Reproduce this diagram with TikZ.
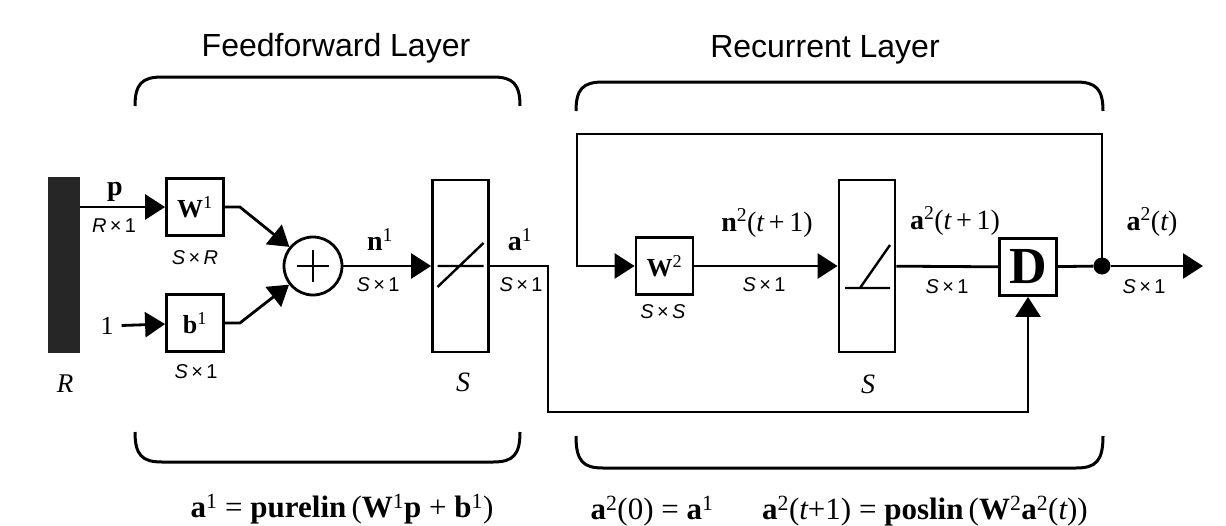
\documentclass[tikz,border=0pt]{standalone}
\usepackage{fontspec}
\setmainfont{Liberation Serif}
\setsansfont{Liberation Sans}
\usetikzlibrary{arrows.meta, positioning, calc}
\newcommand{\up}[1]{\textsuperscript{\normalfont#1}}
\newcommand{\tvar}{{\normalfont\itshape t}}
\newcommand{\dimS}[1]{{\itshape S}\,×\,#1}

\begin{document}
\begin{tikzpicture}[x=1pt, y=-1pt,
        box/.style={rectangle, draw, line width=2.8pt, minimum width=57pt,
                    minimum height=57pt, inner sep=0pt,
                    font=\fontsize{26}{30}\selectfont},
        tall/.style={rectangle, draw, line width=2.8pt, minimum width=56pt,
                     minimum height=172pt, inner sep=0pt},
        sumnode/.style={circle, draw, line width=2.8pt, minimum size=58pt, inner sep=0pt},
        lbl/.style={inner sep=1pt, font=\fontsize{28}{32}\selectfont},
        dimlbl/.style={inner sep=1pt, font=\sffamily\fontsize{20}{24}\selectfont},
        head/.style={inner sep=1pt, font=\sffamily\fontsize{32}{38}\selectfont},
        eqn/.style={inner sep=1pt, font=\fontsize{31}{38}\selectfont},
        wire/.style={line width=2.8pt},
        arrow/.style={line width=2.8pt, -{Triangle[length=20pt, width=25pt]}},
        brace/.style={line width=3pt},
    ]
    \useasboundingbox (0,0) rectangle (1226,525);

    % feedforward layer
    \node[rectangle, fill=black!85, minimum width=32pt, minimum height=176pt, inner sep=0pt] (bar) at (64,265) {};
    \node[lbl, font=\fontsize{27}{30}\selectfont\itshape] (Rlbl) at (65,384) {R};
    \node[box] (W1) at (195,207) {\textbf{W}\up{1}};
    \node[box] (b1) at (195,323) {\textbf{b}\up{1}};
    \node[sumnode] (sum) at (313,266) {};
    \node[tall] (f1) at (460.5,266) {};
    \node[lbl, font=\fontsize{26}{30}\selectfont] (one) at (107,326) {1};

    \draw[arrow] (W1.west -| bar.east) -- (W1);
    \draw[arrow, shorten <=7pt] (one) -- (b1);
    \draw[arrow] (W1.east) -- ++(15,0) -- (sum);
    \draw[arrow] (b1.east) -- ++(15,0) -- (sum);
    \draw[arrow] (sum) -- (f1);
    \draw[wire, line width=2.4pt] ($(sum)+(-16,0)$) -- ($(sum)+(16,0)$)
                                  ($(sum)+(0,-16)$) -- ($(sum)+(0,16)$);
    \draw[wire, line width=2.4pt] ($(f1)+(-23,0)$) -- ($(f1)+(23,0)$)
                                  ($(f1)+(-23,21)$) -- ($(f1)+(23,-23)$);

    \node[lbl] (plbl) at (115,192) {\textbf{p}};
    \node[dimlbl] (pdim) at (114,226) {{\itshape R}\,×\,1};
    \node[dimlbl] (W1dim) at (195,258) {\dimS{{\itshape R}}};
    \node[dimlbl] (b1dim) at (196,372) {\dimS{1}};
    \node[lbl] (n1lbl) at (380,240) {\textbf{n}\up{1}};
    \node[dimlbl] (n1dim) at (378,285) {\dimS{1}};
    \node[lbl, font=\fontsize{28}{30}\selectfont\itshape] (S1lbl) at (463,382) {S};
    \node[lbl] (a1lbl) at (520,240) {\textbf{a}\up{1}};
    \node[dimlbl] (a1dim) at (521,285) {\dimS{1}};

    % recurrent layer
    \node[box] (W2) at (664.5,266) {\textbf{W}\up{2}};
    \node[tall] (f2) at (867,266) {};
    \node[box, font=\fontsize{52}{56}\selectfont\bfseries] (D) at (1028,267) {D};
    \node[circle, fill, inner sep=0pt, minimum size=17pt] (dot) at (1102,266) {};
    \coordinate (out) at (1203,266);
    \coordinate (fbtop) at (577,134);
    \coordinate (fbbot) at (548,412);

    \draw[arrow] (W2) -- (f2);
    \draw[wire] (f2) -- (D);
    \draw[wire] (D) -- (dot);
    \draw[arrow] (dot) -- (out);
    \draw[arrow] (dot.center) |- (fbtop) |- (W2.west);
    \draw[arrow] (f1.east) -| (fbbot) -| (D.south);
    \draw[wire, line width=2.4pt] ($(f2)+(-22,22)$) -- ($(f2)+(23,22)$)
                                  ($(f2)+(-7,22)$) -- ($(f2)+(23,-21)$);

    \node[dimlbl] (W2dim) at (663,312) {\dimS{{\itshape S}}};
    \node[lbl] (n2lbl) at (767,223) {\textbf{n}\up{2}(\tvar\,+\,1)};
    \node[dimlbl] (n2dim) at (764,285) {\dimS{1}};
    \node[lbl, font=\fontsize{28}{30}\selectfont\itshape] (S2lbl) at (868,384) {S};
    \node[lbl] (a2lbl) at (955,221) {\textbf{a}\up{2}(\tvar\,+\,1)};
    \node[dimlbl] (a2dim) at (947,287) {\dimS{1}};
    \node[lbl] (a2tlbl) at (1152,222) {\textbf{a}\up{2}(\tvar)};
    \node[dimlbl] (a2tdim) at (1144,287) {\dimS{1}};

    % layer braces
    \node[head] (ffhead) at (336,48) {Feedforward Layer};
    \node[head] (rchead) at (825,50) {Recurrent Layer};
    \draw[brace] (135,106) .. controls (135,84) and (142,77) .. (162,77) -- (493,77)
                 .. controls (513,77) and (520,84) .. (520,106);
    \draw[brace] (576,111) .. controls (576,89) and (583,82) .. (603,82) -- (1076,82)
                 .. controls (1096,82) and (1103,89) .. (1103,111);
    \draw[brace] (135,432) .. controls (135,455) and (142,462) .. (162,462) -- (493,462)
                 .. controls (513,462) and (520,455) .. (520,432);
    \draw[brace] (576,436) .. controls (576,461) and (583,468) .. (603,468) -- (1076,468)
                 .. controls (1096,468) and (1103,461) .. (1103,436);

    % equations
    \node[eqn] (eq1) at (342,509) {\textbf{a}\up{1} = \textbf{purelin}\,(\textbf{W}\up{1}\textbf{p} + \textbf{b}\up{1})};
    \node[eqn] (eq2) at (652,511) {\textbf{a}\up{2}(0) = \textbf{a}\up{1}};
    \node[eqn] (eq3) at (925,511) {\textbf{a}\up{2}(\tvar+1) = \textbf{poslin}\,(\textbf{W}\up{2}\textbf{a}\up{2}(\tvar))};
\end{tikzpicture}
\end{document}
